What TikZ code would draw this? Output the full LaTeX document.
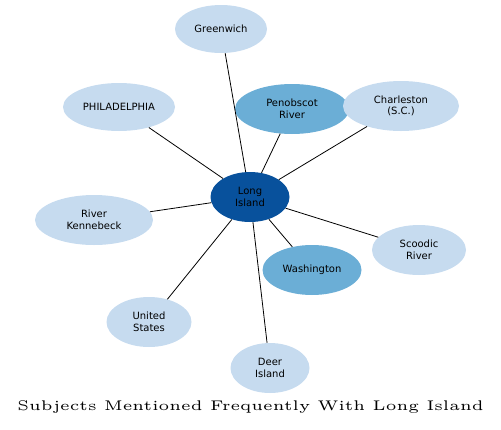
\documentclass[tikz,border=0pt]{standalone}
\usepackage{fontspec}
\newfontfamily\nodefont{DejaVu Sans}
\usetikzlibrary{shapes.geometric}
\definecolor{lightb}{HTML}{C6DBEF}
\definecolor{midb}{HTML}{6BAED6}
\definecolor{darkb}{HTML}{08519C}
\begin{document}
\begin{tikzpicture}[x=1pt,y=-1pt,
  bub/.style={ellipse, fill=lightb, inner sep=0pt, font=\nodefont\fontsize{10}{11.5}\selectfont, align=center},
  link/.style={draw=black, line width=0.8pt}]
\useasboundingbox (0,0) rectangle (501,429);
\node[bub, minimum width=92, minimum height=48] (gr) at (221,29) {Greenwich};
\node[bub, minimum width=112, minimum height=48] (ph) at (119,107) {PHILADELPHIA};
\node[bub, fill=midb, minimum width=114, minimum height=50] (pe) at (292,109) {Penobscot\\River};
\node[bub, minimum width=116, minimum height=50] (ch) at (401,106) {Charleston\\(S.C.)};
\node[bub, fill=darkb, minimum width=79, minimum height=50] (li) at (250,197) {Long\\Island};
\node[bub, minimum width=118, minimum height=50] (ke) at (94,220) {River\\Kennebeck};
\node[bub, minimum width=94, minimum height=50] (sc) at (419,250) {Scoodic\\River};
\node[bub, fill=midb, minimum width=99, minimum height=50] (wa) at (312,270) {Washington};
\node[bub, minimum width=85, minimum height=50] (us) at (149,322) {United\\States};
\node[bub, minimum width=79, minimum height=50] (de) at (270,368) {Deer\\Island};
\foreach \n in {gr,ph,pe,ch,ke,sc,wa,us,de} \draw[link] (li) -- (\n);
\node[inner sep=0pt] (title) at (250.5,407) {\scalebox{3.15}[2.8]{\fontsize{5}{6}\selectfont Subjects Mentioned Frequently With Long Island}};
\end{tikzpicture}
\end{document}
